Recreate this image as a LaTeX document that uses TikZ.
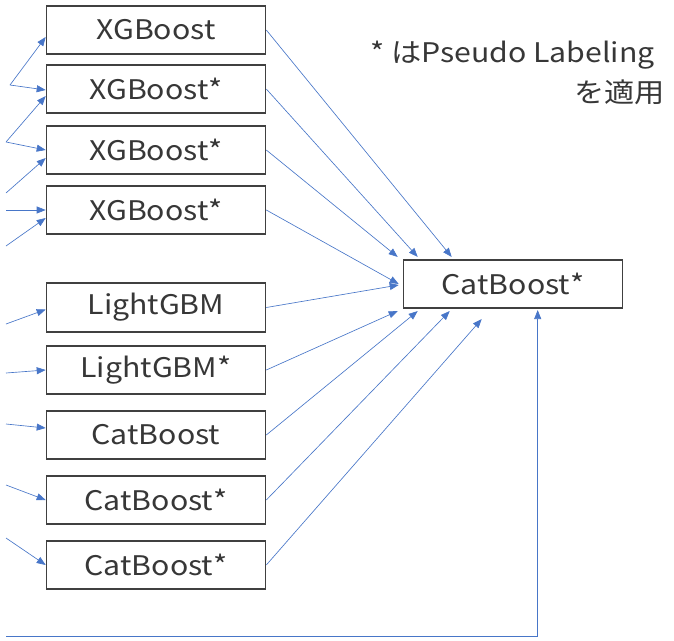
\documentclass[tikz,border=0pt]{standalone}
\usepackage{fontspec}
\setmainfont{Noto Sans CJK JP}[FakeStretch=1.12]
\usetikzlibrary{arrows.meta,calc}
\definecolor{lnblue}{RGB}{72,118,200}
\definecolor{boxgray}{RGB}{64,64,64}
\definecolor{txtgray}{RGB}{55,55,55}
\begin{document}
\begin{tikzpicture}[x=1pt,y=-1pt,
  model/.style={draw=boxgray, line width=1.6pt, minimum width=219pt, minimum height=48.5pt,
    inner sep=0pt, font=\fontsize{27}{30}\selectfont, text=txtgray, fill=white},
  note/.style={inner sep=0pt, font=\fontsize{27}{30}\selectfont, text=txtgray},
  arr/.style={draw=lnblue, line width=0.65pt, -{Triangle[length=9pt,width=7pt]}}]
\useasboundingbox (0,0) rectangle (674,640);
\node[model] (b1) at (156,30) {XGBoost};
\node[model] (b2) at (156,89) {XGBoost*};
\node[model] (b3) at (156,150) {XGBoost*};
\node[model] (b4) at (156,210) {XGBoost*};
\node[model] (b5) at (156,307.5) {LightGBM};
\node[model] (b6) at (156,370) {LightGBM*};
\node[model] (b7) at (156,435) {CatBoost};
\node[model] (b8) at (156,500) {CatBoost*};
\node[model] (b9) at (156,565) {CatBoost*};
\node[model] (c) at (513,284) {CatBoost*};
\node[note, anchor=west] (t1) at (370,55) {* はPseudo Labeling};
\node[note, anchor=east] (t2) at (665,92) {を適用};
\coordinate (s1) at (10,85);
\coordinate (s2) at (6,142);
\coordinate (s3) at (6,193);
\coordinate (s4) at (6,210);
\coordinate (s5) at (6,246);
\coordinate (s6) at (6,324);
\coordinate (s7) at (6,373);
\coordinate (s8) at (6,424);
\coordinate (s9) at (6,485);
\coordinate (s10) at (6,538);
\coordinate (s11) at (6,636);
\draw[arr] (s1) -- ($(b1.west)+(0,7)$);
\draw[arr] (s1) -- ($(b2.west)+(0,1)$);
\draw[arr] (s2) -- ($(b2.west)+(0,7)$);
\draw[arr] (s2) -- (b3.west);
\draw[arr] (s3) -- ($(b3.west)+(0,8)$);
\draw[arr] (s4) -- (b4.west);
\draw[arr] (s5) -- ($(b4.west)+(0,8)$);
\draw[arr] (s6) -- ($(b5.west)+(0,2)$);
\draw[arr] (s7) -- (b6.west);
\draw[arr] (s8) -- ($(b7.west)+(0,-7)$);
\draw[arr] (s9) -- (b8.west);
\draw[arr] (s10) -- (b9.west);
\draw[arr] (b1.east) -- ($(c.north west)+(49,-2)$);
\draw[arr] (b2.east) -- ($(c.north west)+(15,-2)$);
\draw[arr] (b3.east) -- ($(c.north west)+(-5,-2)$);
\draw[arr] (b4.east) -- ($(c.west)+(-4,0)$);
\draw[arr] (b5.east) -- ($(c.west)+(-4,1)$);
\draw[arr] (b6.east) -- ($(c.south west)+(-5,2)$);
\draw[arr] (b7.east) -- ($(c.south west)+(15,2)$);
\draw[arr] (b8.east) -- ($(c.south west)+(47,2)$);
\draw[arr] (b9.east) -- ($(c.south west)+(79,10)$);
\draw[arr] (s11) -| ($(c.south west)+(135,1)$);
\end{tikzpicture}
\end{document}
